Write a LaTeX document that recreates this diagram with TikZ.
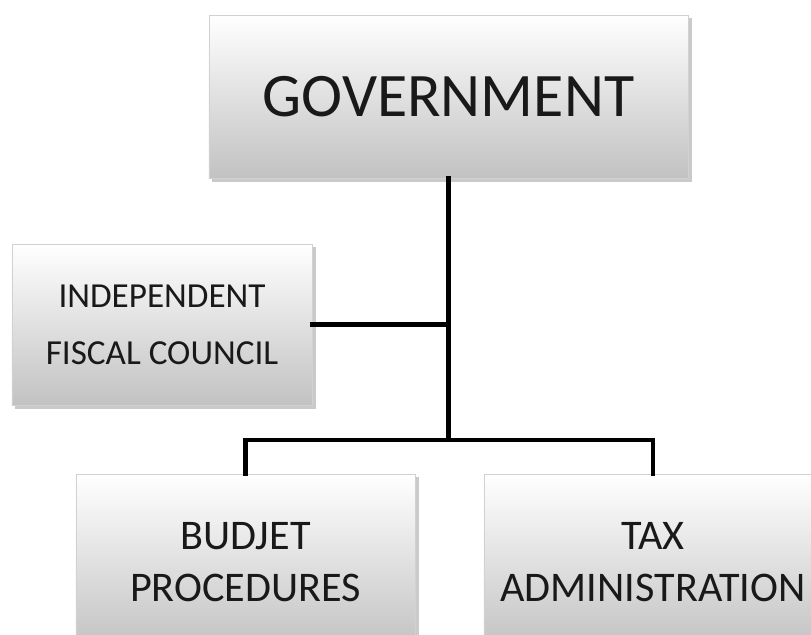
\documentclass[tikz,border=0pt]{standalone}
\usepackage{fontspec}
\setmainfont{Carlito}
\usetikzlibrary{shadows}

\begin{document}
\begin{tikzpicture}[x=0.025cm, y=-0.025cm,
            orgbox/.style={rectangle, draw=black!18, line width=0.4pt,
                top color=white, bottom color=black!24, align=center,
                inner sep=0pt, text=black!90,
                drop shadow={shadow xshift=2.5pt, shadow yshift=-2.5pt, opacity=0.35, fill=black!60}},
            link/.style={line width=3.3pt, line cap=rect}
        ]
            \useasboundingbox (0,0) rectangle (811,635);

            % top level
            \node[orgbox, minimum width=11.975cm, minimum height=4.075cm,
                  font=\fontsize{44}{50}\selectfont] (gov) at (448.5, 96.5) {GOVERNMENT};

            % advisory body on the side
            \node[orgbox, minimum width=7.5cm, minimum height=4.025cm,
                  font=\fontsize{25}{40.5}\selectfont] (ifc) at (162, 324.5)
                  {INDEPENDENT\\FISCAL COUNCIL};

            % bottom level
            \node[orgbox, minimum width=8.475cm, minimum height=4.4cm,
                  font=\fontsize{30}{37}\selectfont] (bud) at (245.5, 562) {BUDJET\\PROCEDURES};
            \node[orgbox, minimum width=8.45cm, minimum height=4.4cm,
                  font=\fontsize{30}{37}\selectfont] (tax) at (653, 562) {TAX\\ADMINISTRATION};

            \coordinate (hub) at (448.5, 440);

            % connectors
            \draw[link] (gov.south) -- (hub);
            \draw[link] (ifc.east) -- (ifc.east -| hub);
            \draw[link] (bud.north) |- (hub) -| (tax.north);
        \end{tikzpicture}
\end{document}
